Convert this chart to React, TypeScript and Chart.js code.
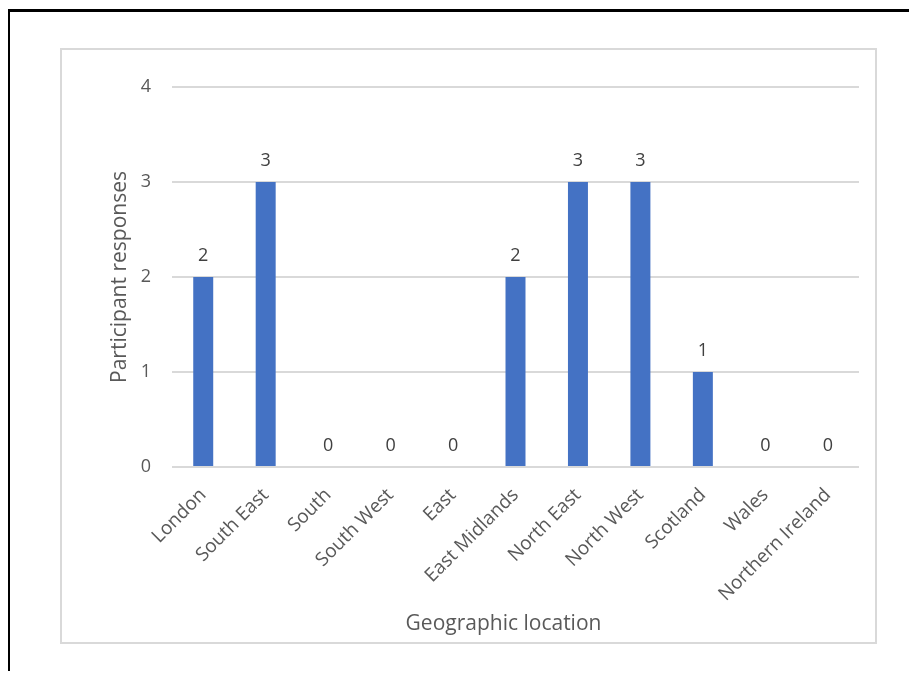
import React, { useEffect, useRef } from "react";
import { Chart, registerables } from "chart.js";

Chart.register(...registerables);

// Survey data: responses per UK region
const regions = [
  "London",
  "South East",
  "South",
  "South West",
  "East",
  "East Midlands",
  "North East",
  "North West",
  "Scotland",
  "Wales",
  "Northern Ireland",
];
const responses = [2, 3, 0, 0, 0, 2, 3, 3, 1, 0, 0];
const yMin = 0;
const yMax = 4;
const yStep = 1;
const xTitle = "Geographic location";
const yTitle = "Participant responses";

const FONT = "'Open Sans', 'Noto Sans', sans-serif";
const BAR_COLOR = "#4472C4";
const GRID_COLOR = "#d9d9d9";

// Writes each bar's value just above it
const valueLabels = {
  id: "valueLabels",
  afterDatasetsDraw(chart: any) {
    const { ctx } = chart;
    const meta = chart.getDatasetMeta(0);
    const values = chart.data.datasets[0].data as number[];
    ctx.save();
    ctx.font = `18px ${FONT}`;
    ctx.fillStyle = "#404040";
    ctx.textAlign = "center";
    ctx.textBaseline = "alphabetic";
    meta.data.forEach((bar: any, i: number) => {
      ctx.fillText(String(values[i]), bar.x, bar.y - 16);
    });
    ctx.restore();
  },
};

// Horizontal axis title, placed a little left of the plot centre
const xAxisTitle = {
  id: "xAxisTitle",
  afterDraw(chart: any) {
    const { ctx, chartArea } = chart;
    ctx.save();
    ctx.font = `21px ${FONT}`;
    ctx.fillStyle = "#595959";
    ctx.textAlign = "center";
    ctx.textBaseline = "middle";
    const cx = (chartArea.left + chartArea.right) / 2 - 12;
    ctx.fillText(xTitle, cx, chart.scales.x.bottom - 18);
    ctx.restore();
  },
};

export default function App() {
  const canvasRef = useRef<HTMLCanvasElement | null>(null);

  useEffect(() => {
    if (!canvasRef.current) return;
    const chart = new Chart(canvasRef.current, {
      type: "bar",
      data: {
        labels: regions,
        datasets: [
          {
            data: responses,
            backgroundColor: BAR_COLOR,
            borderWidth: 0,
            barPercentage: 0.32,
            categoryPercentage: 1,
          },
        ],
      },
      options: {
        responsive: false,
        animation: false,
        devicePixelRatio: 1,
        layout: { padding: { top: 75, left: 90, right: 50, bottom: 30 } },
        plugins: {
          legend: { display: false },
          tooltip: { enabled: false },
        },
        scales: {
          x: {
            grid: { display: false, drawTicks: false },
            border: { display: false },
            ticks: {
              autoSkip: false,
              minRotation: 45,
              maxRotation: 45,
              padding: 17,
              color: "#595959",
              font: { family: FONT, size: 19 },
            },
            afterFit(scale: any) {
              scale.height = 175;
            },
          },
          y: {
            min: yMin,
            max: yMax,
            grid: { color: GRID_COLOR, lineWidth: 2, drawTicks: false },
            border: { display: false },
            ticks: {
              stepSize: yStep,
              padding: 21,
              color: "#595959",
              font: { family: FONT, size: 18 },
            },
            title: {
              display: true,
              text: yTitle,
              color: "#595959",
              font: { family: FONT, size: 21 },
              padding: { top: 7.4, bottom: 0 },
            },
            afterFit(scale: any) {
              scale.width = 72;
            },
          },
        },
      },
      plugins: [valueLabels, xAxisTitle],
    });
    return () => chart.destroy();
  }, []);

  return (
    <div
      style={{
        position: "relative",
        left: -1,
        top: 1,
        borderTop: "3px solid #000",
        borderLeft: "3px solid #000",
        height: 660,
      }}
    >
      <div
        style={{
          position: "absolute",
          left: 50,
          top: 36,
          width: 817,
          height: 596,
          border: `2px solid ${GRID_COLOR}`,
          boxSizing: "border-box",
        }}
      />
      <canvas
        ref={canvasRef}
        width={899}
        height={660}
        style={{ position: "absolute", left: 0, top: 0, width: 899, height: 660 }}
      />
    </div>
  );
}
